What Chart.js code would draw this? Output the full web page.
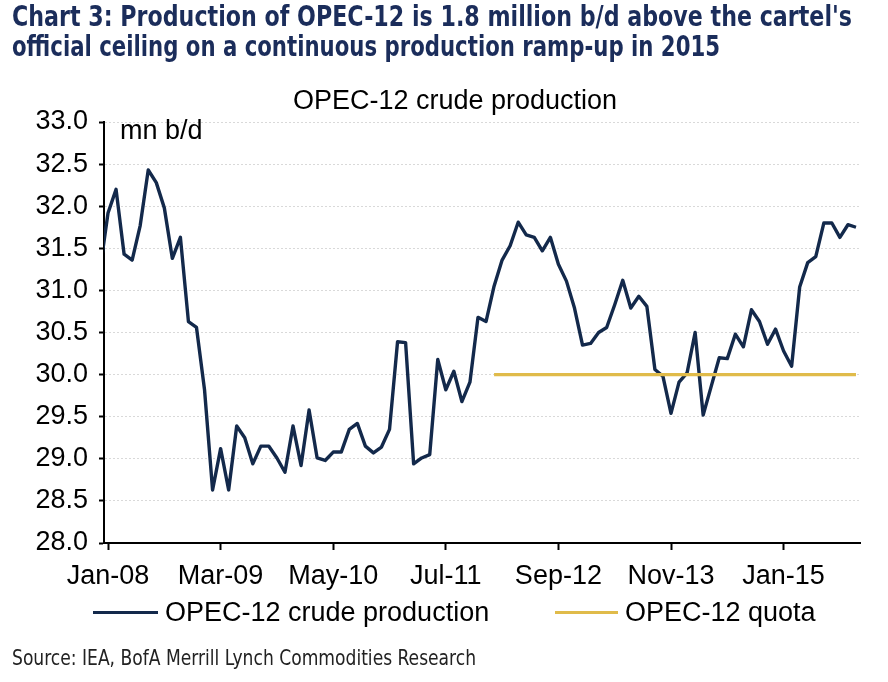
<!DOCTYPE html>
<html>
<head>
<meta charset="utf-8">
<script src="https://cdn.jsdelivr.net/npm/chart.js@4.4.0/dist/chart.umd.min.js"></script>
<style>
  html, body { margin: 0; padding: 0; background: #fff; }
  #wrap { position: relative; width: 888px; height: 682px; overflow: hidden; font-family: 'Liberation Sans', Arial, sans-serif; }
  #wrap canvas { position: absolute; left: 0; top: 0; }
  .t { position: absolute; white-space: nowrap; transform-origin: 0 0; }
  .head { left: 12px; font-family: 'Liberation Sans Narrow', 'DejaVu Sans Condensed', sans-serif; font-weight: bold; font-size: 28px; line-height: 30px; color: #1b2d5b; }
  .lbl { font-size: 27px; line-height: 30px; color: #000; }
  .key { position: absolute; height: 3px; }
</style>
</head>
<body>
<div id="wrap">
  <canvas id="c" width="888" height="682"></canvas>
  <div class="t head" id="h1" style="top:2px;">Chart 3: Production of OPEC-12 is 1.8 million b/d above the cartel's</div>
  <div class="t head" id="h2" style="top:32px;">official ceiling on a continuous production ramp-up in 2015</div>
  <div class="t lbl" style="left:455px;top:85px;transform:translateX(-50%);">OPEC-12 crude production</div>
  <div class="t lbl" style="left:120px;top:115px;">mn b/d</div>
  <div class="key" style="left:93px;top:611px;width:65px;background:#13294b;"></div>
  <div class="t lbl" style="left:165px;top:597px;">OPEC-12 crude production</div>
  <div class="key" style="left:555px;top:611px;width:63px;background:#e0bb4a;"></div>
  <div class="t lbl" style="left:625px;top:597px;">OPEC-12 quota</div>
  <div class="t" id="src" style="left:12px;top:646px;font-family:'Liberation Sans Narrow','DejaVu Sans Condensed',sans-serif;font-size:21px;line-height:24px;color:#222;">Source: IEA, BofA Merrill Lynch Commodities Research</div>
</div>
<script>
// monthly categories, Dec-07 .. Oct-15 (Dec-07 sits just left of the axis and is clipped)
const months = ['Jan', 'Feb', 'Mar', 'Apr', 'May', 'Jun', 'Jul', 'Aug', 'Sep', 'Oct', 'Nov', 'Dec'];
const labels = ['Dec-07'];
for (let y = 8; y <= 15; y++) {
    for (let m = 0; m < 12; m++) {
        if (y === 15 && m > 9) break;
        labels.push(months[m] + '-' + String(y).padStart(2, '0'));
    }
}

const xTickLabels = ['Jan-08', 'Mar-09', 'May-10', 'Jul-11', 'Sep-12', 'Nov-13', 'Jan-15'];

// OPEC-12 crude production, mn b/d
const production = [
    31.24,
    31.92, 32.20, 31.43, 31.36, 31.77, 32.43, 32.28, 31.98, 31.38, 31.63, 30.63, 30.56, // 2008
    29.82, 28.63, 29.12, 28.63, 29.39, 29.25, 28.94, 29.15, 29.15, 29.01, 28.84, 29.39, // 2009
    28.92, 29.58, 29.01, 28.98, 29.08, 29.08, 29.35, 29.42, 29.15, 29.07, 29.14, 29.35, // 2010
    30.39, 30.38, 28.94, 29.01, 29.05, 30.18, 29.82, 30.04, 29.68, 29.91, 30.68, 30.63, // 2011
    31.05, 31.36, 31.53, 31.81, 31.66, 31.63, 31.47, 31.63, 31.31, 31.11, 30.79, 30.35, // 2012
    30.37, 30.50, 30.56, 30.83, 31.12, 30.79, 30.93, 30.81, 30.06, 29.98, 29.54, 29.91, // 2013
    30.02, 30.50, 29.52, 29.86, 30.20, 30.19, 30.48, 30.33, 30.77, 30.63, 30.36, 30.54, // 2014
    30.28, 30.10, 31.04, 31.33, 31.40, 31.80, 31.80, 31.63, 31.78, 31.75              // 2015
];

// OPEC-12 quota line
const quota = [{ x: 'Jan-12', y: 30.0 }, { x: 'Oct-15', y: 30.0 }];

const FONT = { family: "'Liberation Sans', Arial, sans-serif", size: 27 };

new Chart(document.getElementById('c'), {
    type: 'line',
    data: {
        labels: labels,
        datasets: [
            { label: 'OPEC-12 crude production', data: production, borderColor: '#13294b', borderWidth: 3.4, pointRadius: 0, tension: 0, borderJoinStyle: 'round', order: 1 },
            { label: 'OPEC-12 quota', data: quota, borderColor: '#e0bb4a', borderWidth: 3.4, pointRadius: 0, tension: 0, order: 0 }
        ]
    },
    options: {
        responsive: false,
        devicePixelRatio: 1,
        animation: false,
        layout: { padding: { top: 122, right: 28, bottom: 79, left: 0 } },
        plugins: { legend: { display: false }, title: { display: false }, tooltip: { enabled: false } },
        scales: {
            x: {
                type: 'category',
                min: 'Jan-08',
                offset: true,
                afterFit: s => { s.height = 60; },
                grid: {
                    drawOnChartArea: false,
                    tickLength: 7,
                    tickWidth: 2,
                    tickColor: ctx => (ctx.tick && xTickLabels.includes(labels[ctx.tick.value])) ? '#000' : 'rgba(0,0,0,0)'
                },
                border: { color: '#000', width: 2 },
                ticks: {
                    autoSkip: false, maxRotation: 0, minRotation: 0, padding: 10,
                    font: FONT, color: '#000',
                    callback: function (v) { const l = this.getLabelForValue(v); return xTickLabels.includes(l) ? l : ''; }
                }
            },
            y: {
                min: 28, max: 33,
                afterFit: s => { s.width = 104; },
                grid: { color: '#d9d9d9', lineWidth: 1, tickLength: 5, tickWidth: 2, tickColor: '#000', tickBorderDash: [] },
                border: { color: '#000', width: 2, dash: [2, 2] },
                ticks: { stepSize: 0.5, padding: 11, font: FONT, color: '#000', callback: v => v.toFixed(1) }
            }
        }
    }
});

// squeeze the condensed header and source lines to the reference widths
function fitWidth(id, w) {
    const el = document.getElementById(id);
    el.style.transform = 'scaleX(' + (w / el.getBoundingClientRect().width) + ')';
}
fitWidth('h1', 840);
fitWidth('h2', 708);
fitWidth('src', 464);
</script>
</body>
</html>
